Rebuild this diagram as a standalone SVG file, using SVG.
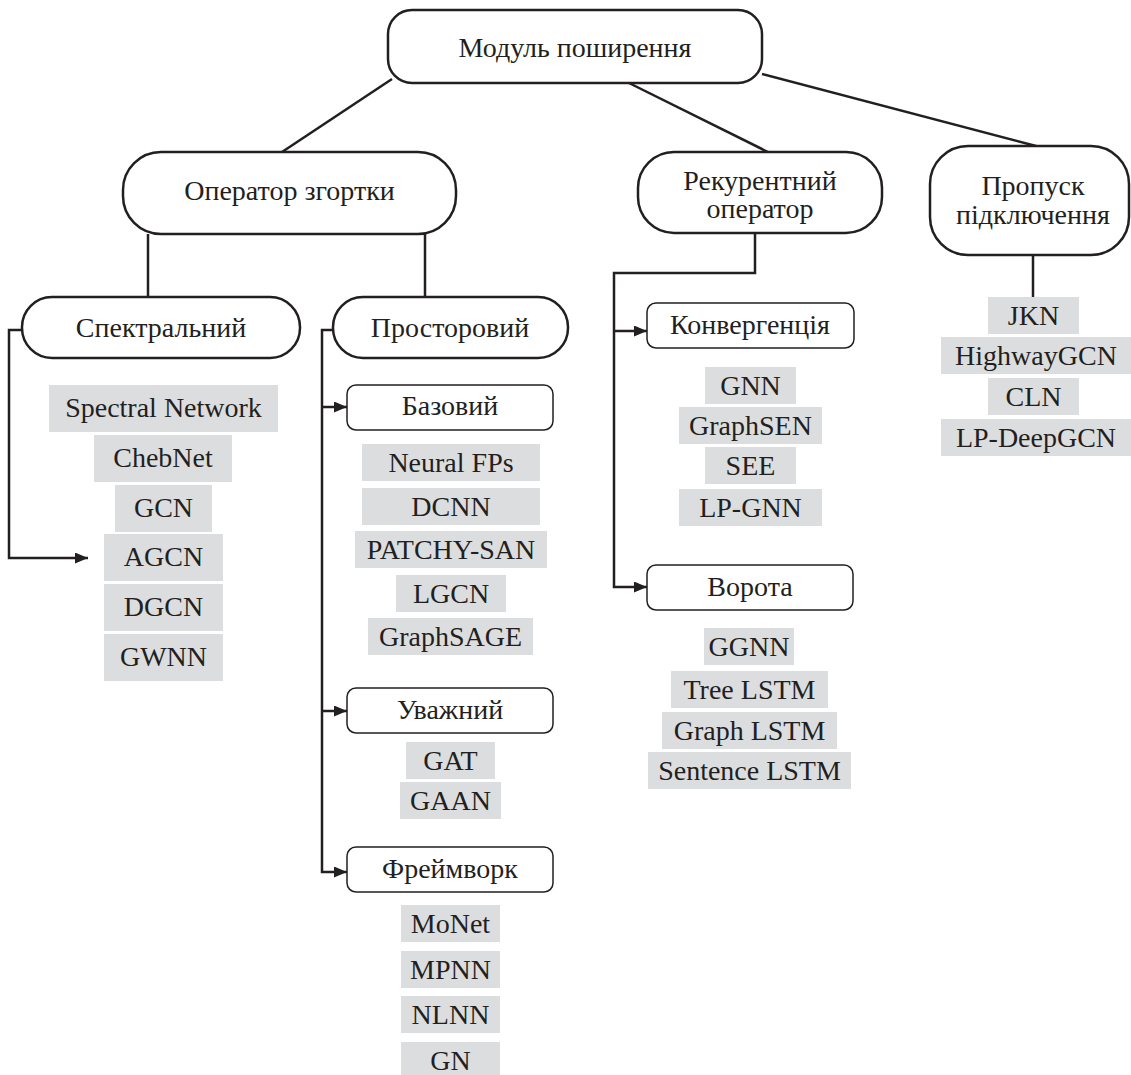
<svg xmlns="http://www.w3.org/2000/svg" width="1131" height="1075" viewBox="0 0 1131 1075">
<defs>
<marker id="arr" markerWidth="13" markerHeight="11" refX="13" refY="5.5" orient="auto" markerUnits="userSpaceOnUse"><path d="M0,0 L13,5.5 L0,11 z" fill="#231f20"/></marker>
</defs>
<style>
text { font-family: "Liberation Serif", "Times New Roman", serif; font-size: 28px; fill: #231f20; text-anchor: middle; }
.big { fill: #fff; stroke: #231f20; stroke-width: 2.5; }
.small { fill: #fff; stroke: #231f20; stroke-width: 1.5; }
.item { fill: #dcdddf; }
.conn { fill: none; stroke: #231f20; stroke-width: 2.5; }
</style>
<rect x="0" y="0" width="1131" height="1075" fill="#fff"/>

<g id="connectors">
<path class="conn" d="M392,79 L282,152"/>
<path class="conn" d="M629,83 L768,152"/>
<path class="conn" d="M762,74 L1036,146"/>
<path class="conn" d="M148,234 V297"/>
<path class="conn" d="M425,234 V297"/>
<path class="conn" d="M22,330 H9 V558 H88" marker-end="url(#arr)"/>
<path class="conn" d="M333,330 H322 V872 H347" marker-end="url(#arr)"/>
<path class="conn" d="M322,407 H347" marker-end="url(#arr)"/>
<path class="conn" d="M322,711 H347" marker-end="url(#arr)"/>
<path class="conn" d="M755,233 V273 H614 V587 H647" marker-end="url(#arr)"/>
<path class="conn" d="M614,331 H647" marker-end="url(#arr)"/>
<path class="conn" d="M1033,255 V297"/>
</g>

<g id="modul"><rect class="big" x="388" y="10" width="374" height="73" rx="24"/><text x="575" y="57">Модуль поширення</text></g>
<g id="operator"><rect class="big" x="123" y="152" width="333" height="82" rx="38"/><text x="289.5" y="200">Оператор згортки</text></g>
<g id="recurrent"><rect class="big" x="638" y="152" width="244" height="81" rx="36"/><text x="760" y="190">Рекурентний</text><text x="760" y="218">оператор</text></g>
<g id="skip"><rect class="big" x="930" y="146" width="199" height="109" rx="38"/><text x="1033" y="195">Пропуск</text><text x="1033" y="224">підключення</text></g>
<g id="spectral"><rect class="big" x="22" y="297" width="278" height="61" rx="30"/><text x="161" y="337">Спектральний</text></g>
<g id="spatial"><rect class="big" x="333" y="297" width="235" height="61" rx="30"/><text x="450" y="337">Просторовий</text></g>
<g id="basic"><rect class="small" x="347" y="385" width="206" height="45" rx="9"/><text x="450" y="415">Базовий</text></g>
<g id="attentive"><rect class="small" x="347" y="688" width="206" height="45" rx="9"/><text x="450" y="719">Уважний</text></g>
<g id="framework"><rect class="small" x="347" y="847" width="206" height="45" rx="9"/><text x="450" y="878">Фреймворк</text></g>
<g id="convergence"><rect class="small" x="647" y="303" width="207" height="45" rx="9"/><text x="750" y="334">Конвергенція</text></g>
<g id="gate"><rect class="small" x="647" y="565" width="206" height="45" rx="9"/><text x="750" y="596">Ворота</text></g>

<g id="spectral-network"><rect class="item" x="49" y="385" width="229" height="47"/><text x="163.5" y="417">Spectral Network</text></g>
<g id="chebnet"><rect class="item" x="94" y="435" width="138" height="47"/><text x="163" y="467">ChebNet</text></g>
<g id="gcn"><rect class="item" x="115" y="485" width="97" height="47"/><text x="163.5" y="517">GCN</text></g>
<g id="agcn"><rect class="item" x="104" y="534" width="119" height="47"/><text x="163.5" y="566">AGCN</text></g>
<g id="dgcn"><rect class="item" x="104" y="584" width="119" height="47"/><text x="163.5" y="616">DGCN</text></g>
<g id="gwnn"><rect class="item" x="104" y="634" width="119" height="47"/><text x="163.5" y="666">GWNN</text></g>

<g id="neural-fps"><rect class="item" x="362" y="444" width="178" height="37"/><text x="451" y="472">Neural FPs</text></g>
<g id="dcnn"><rect class="item" x="362" y="488" width="178" height="37"/><text x="451" y="516">DCNN</text></g>
<g id="patchy-san"><rect class="item" x="355" y="531" width="192" height="37"/><text x="451" y="559">PATCHY-SAN</text></g>
<g id="lgcn"><rect class="item" x="396" y="575" width="110" height="37"/><text x="451" y="603">LGCN</text></g>
<g id="graphsage"><rect class="item" x="368" y="618" width="165" height="37"/><text x="450.5" y="646">GraphSAGE</text></g>
<g id="gat"><rect class="item" x="406" y="742" width="89" height="37"/><text x="450.5" y="770">GAT</text></g>
<g id="gaan"><rect class="item" x="400" y="782" width="101" height="37"/><text x="450.5" y="810">GAAN</text></g>
<g id="monet"><rect class="item" x="401" y="905" width="99" height="37"/><text x="450.5" y="933">MoNet</text></g>
<g id="mpnn"><rect class="item" x="401" y="951" width="99" height="37"/><text x="450.5" y="979">MPNN</text></g>
<g id="nlnn"><rect class="item" x="401" y="996" width="99" height="37"/><text x="450.5" y="1024">NLNN</text></g>
<g id="gn"><rect class="item" x="401" y="1042" width="99" height="37"/><text x="450.5" y="1070">GN</text></g>

<g id="gnn"><rect class="item" x="705" y="367" width="91" height="37"/><text x="750.5" y="395">GNN</text></g>
<g id="graphsen"><rect class="item" x="679" y="407" width="143" height="37"/><text x="750.5" y="435">GraphSEN</text></g>
<g id="see"><rect class="item" x="705" y="447" width="91" height="37"/><text x="750.5" y="475">SEE</text></g>
<g id="lp-gnn"><rect class="item" x="679" y="489" width="143" height="37"/><text x="750.5" y="517">LP-GNN</text></g>

<g id="ggnn"><rect class="item" x="704" y="628" width="90" height="37"/><text x="749" y="656">GGNN</text></g>
<g id="tree-lstm"><rect class="item" x="671" y="671" width="157" height="37"/><text x="749.5" y="699">Tree LSTM</text></g>
<g id="graph-lstm"><rect class="item" x="662" y="712" width="175" height="37"/><text x="749.5" y="740">Graph LSTM</text></g>
<g id="sentence-lstm"><rect class="item" x="648" y="752" width="203" height="37"/><text x="749.5" y="780">Sentence LSTM</text></g>

<g id="jkn"><rect class="item" x="988" y="297" width="91" height="37"/><text x="1033.5" y="325">JKN</text></g>
<g id="highwaygcn"><rect class="item" x="941" y="337" width="190" height="37"/><text x="1036" y="365">HighwayGCN</text></g>
<g id="cln"><rect class="item" x="988" y="378" width="91" height="37"/><text x="1033.5" y="406">CLN</text></g>
<g id="lp-deepgcn"><rect class="item" x="941" y="419" width="190" height="37"/><text x="1036" y="447">LP-DeepGCN</text></g>
</svg>
